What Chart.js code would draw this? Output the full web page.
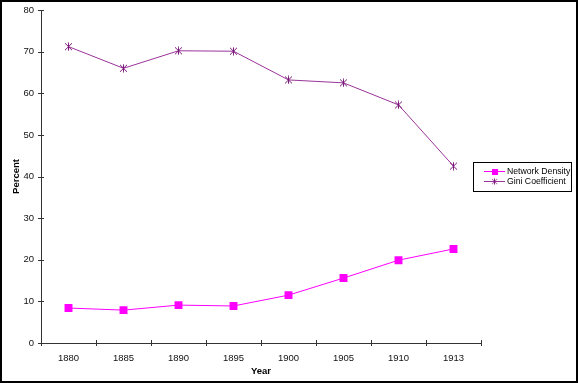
<!DOCTYPE html>
<html><head><meta charset="utf-8">
<script src="https://cdn.jsdelivr.net/npm/chart.js@4/dist/chart.umd.min.js"></script>
<style>
html,body{margin:0;padding:0;background:#fff;}
#wrap{width:578px;height:383px;box-sizing:border-box;border:2px solid #000;position:relative;background:#fff;}
canvas{display:block;}
</style></head>
<body><div id="wrap"><canvas id="c" width="574" height="379"></canvas></div>
<script>
const years = ['1880','1885','1890','1895','1900','1905','1910','1913'];
const networkDensity = [8.4, 7.9, 9.1, 8.9, 11.5, 15.6, 19.9, 22.6];
const giniCoefficient = [71.2, 66.0, 70.2, 70.1, 63.2, 62.5, 57.2, 42.5];
const yTicks = [0,10,20,30,40,50,60,70,80];

const FONT = 'Liberation Sans, Arial, sans-serif';

function makeAsterisk(){
  const c = document.createElement('canvas');
  c.width = 9; c.height = 9;
  const g = c.getContext('2d');
  g.strokeStyle = '#7a1a7a'; g.lineWidth = 1;
  g.beginPath();
  g.moveTo(1,1); g.lineTo(8,8);
  g.moveTo(8,1); g.lineTo(1,8);
  g.moveTo(4.5,0.5); g.lineTo(4.5,8.5);
  g.stroke();
  return c;
}
const asterisk = makeAsterisk();

const crossTicks = {
  id:'crossTicks',
  afterDraw(chart){
    const ctx = chart.ctx, x = chart.scales.x, y = chart.scales.y, a = chart.chartArea;
    ctx.save();
    ctx.strokeStyle = '#333'; ctx.lineWidth = 1;
    ctx.beginPath();
    yTicks.forEach(v=>{ const py = Math.round(y.getPixelForValue(v))+0.5; ctx.moveTo(a.left-3,py); ctx.lineTo(a.left+3,py); });
    for(let i=0;i<=years.length;i++){
      const px = Math.round(x.getPixelForValue(i-0.5))+0.5;
      ctx.moveTo(px,a.bottom-3); ctx.lineTo(px,a.bottom+3);
    }
    ctx.stroke();
    // legend (canvas coords = page coords - 2)
    const lx = 471, ly = 160, lw = 98, lh = 29;
    ctx.fillStyle='#fff'; ctx.fillRect(lx,ly,lw,lh);
    ctx.strokeStyle='#000'; ctx.strokeRect(lx+0.5,ly+0.5,lw,lh);
    ctx.font = '8.7px '+FONT; ctx.textBaseline='middle'; ctx.textAlign='left';
    const ds = chart.data.datasets;
    [0,1].forEach(i=>{
      const cy = ly + 9 + i*10;
      ctx.strokeStyle = ds[i].borderColor; ctx.lineWidth=1;
      ctx.beginPath(); ctx.moveTo(lx+11,cy+0.5); ctx.lineTo(lx+32,cy+0.5); ctx.stroke();
      if(i===0){
        ctx.fillStyle = '#ff00ff'; ctx.fillRect(lx+19,cy-2,6,6);
      } else {
        ctx.drawImage(asterisk, lx+18, cy-3, 7, 7);
      }
      ctx.fillStyle='#000';
      ctx.fillText(ds[i].label,lx+34,cy+0.5);
    });
    ctx.restore();
  }
};

new Chart(document.getElementById('c'),{
  type:'line',
  data:{labels:years,datasets:[
    {label:'Network Density',data:networkDensity,borderColor:'#ff00ff',backgroundColor:'#ff00ff',borderWidth:1,
     pointStyle:'rect',pointRadius:5.6,pointBorderWidth:0,pointBorderColor:'#ff00ff',pointBackgroundColor:'#ff00ff',tension:0},
    {label:'Gini Coefficient',data:giniCoefficient,borderColor:'#993399',backgroundColor:'#7a1a7a',borderWidth:1,
     pointStyle:asterisk,pointRadius:4.5,tension:0}
  ]},
  options:{
    responsive:false,animation:false,
    layout:{padding:{top:8,right:95,left:5,bottom:0}},
    plugins:{legend:{display:false},tooltip:{enabled:false}},
    scales:{
      x:{offset:true,
         grid:{display:false,offset:true,drawTicks:false},
         border:{display:true,color:'#333',width:1},
         ticks:{font:{family:FONT,size:9.5},color:'#111',padding:10},
         title:{display:true,text:'Year',font:{family:FONT,size:9.5,weight:'bold'},color:'#000',padding:{top:2}},
         afterFit(s){s.height=38; s.paddingLeft=0; s.paddingRight=0;}
      },
      y:{min:0,max:80,
         afterBuildTicks(s){s.ticks=yTicks.map(v=>({value:v}));},
         grid:{display:false,drawTicks:false},
         border:{display:true,color:'#333',width:1},
         ticks:{font:{family:FONT,size:9.5},color:'#111',padding:7},
         title:{display:true,text:'Percent',font:{family:FONT,size:9.5,weight:'bold'},color:'#000',padding:{bottom:4}},
         afterFit(s){s.width=34; s.paddingTop=0; s.paddingBottom=0;}
      }
    }
  },
  plugins:[crossTicks]
});
</script></body></html>
